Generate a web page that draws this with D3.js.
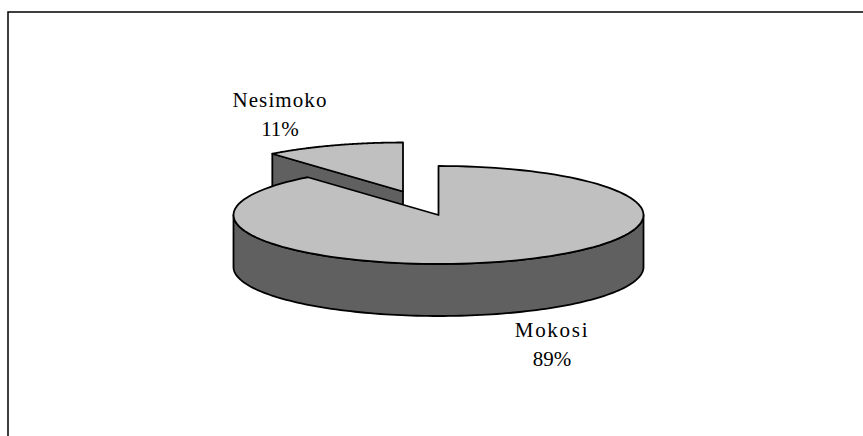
<!DOCTYPE html>
<html>
<head>
<meta charset="utf-8">
<script src="https://cdn.jsdelivr.net/npm/d3@7"></script>
<style>
  html, body { margin: 0; padding: 0; background: #fff; }
  text { font-family: "Liberation Serif", serif; font-size: 21px; fill: #000; text-anchor: middle; }
</style>
</head>
<body>
<div id="chart"></div>
<script>
const categories = ["Mokosi", "Nesimoko"]
const percents = [89, 11]

const width = 863, height = 436
const rx = 205, ry = 49, depth = 52
const cx = 438.5, cy = 215
const explode = {Nesimoko: [-35.5, -23.5], Mokosi: [0, 0]}
const labelPos = {Mokosi: [552, 337], Nesimoko: [280, 107]}
const labelSpacing = {Mokosi: 1.7, Nesimoko: 1.1}
const topColor = "#c0c0c0", sideColor = "#606060"

const svg = d3.select("#chart")
  .append("svg")
    .attr("width", width)
    .attr("height", height)
    .style("display", "block")

// frame, only left and top are in the picture
svg.append("path")
  .attr("d", "M8 436V12H863")
  .attr("fill", "none")
  .attr("stroke", "#000")
  .attr("stroke-width", 1.5)

const pie = d3.pie().sort(null)
const slices = pie(percents).map((d, i) => ({...d, name: categories[i]}))

// tilted disc: angle 0 is the top, clockwise
const rim = (a, z = 0) => [rx * Math.sin(a), -ry * Math.cos(a) + z]
const arcPts = (a0, a1, z = 0) => d3.range(0, 121).map(i => rim(a0 + (a1 - a0) * i / 120, z))
const line = d3.line()

// pulled out slice goes first, the big one covers it
const order = ["Nesimoko", "Mokosi"]
for (let name of order){
  const d = slices.find(s => s.name == name)
  const g = svg.append("g")
    .attr("transform", "translate(" + (cx + explode[name][0]) + "," + (cy + explode[name][1]) + ")")
    .attr("stroke", "#000")
    .attr("stroke-width", 1.8)
    .attr("stroke-linejoin", "round")

  // cut face on the near side of the slice
  if (name == "Nesimoko"){
    const p = rim(d.startAngle)
    g.append("path")
      .attr("d", line([[0, 0], p, [p[0], p[1] + depth], [0, depth]]) + "Z")
      .attr("fill", sideColor)
  }

  // outer wall, only the front half shows
  const a0 = Math.max(d.startAngle, Math.PI / 2), a1 = Math.min(d.endAngle, 3 * Math.PI / 2)
  if (a1 > a0){
    g.append("path")
      .attr("d", line(arcPts(a0, a1).concat(arcPts(a1, a0, depth))) + "Z")
      .attr("fill", sideColor)
  }

  // top face
  g.append("path")
    .attr("d", line([[0, 0]].concat(arcPts(d.startAngle, d.endAngle))) + "Z")
    .attr("fill", topColor)
}

// labels
slices.forEach(d => {
  const t = svg.append("text")
    .attr("x", labelPos[d.name][0])
    .attr("y", labelPos[d.name][1])
  t.append("tspan").attr("x", labelPos[d.name][0]).attr("letter-spacing", labelSpacing[d.name]).text(d.name)
  t.append("tspan").attr("x", labelPos[d.name][0]).attr("dy", 28.5).text(d.value + "%")
})
</script>
</body>
</html>
